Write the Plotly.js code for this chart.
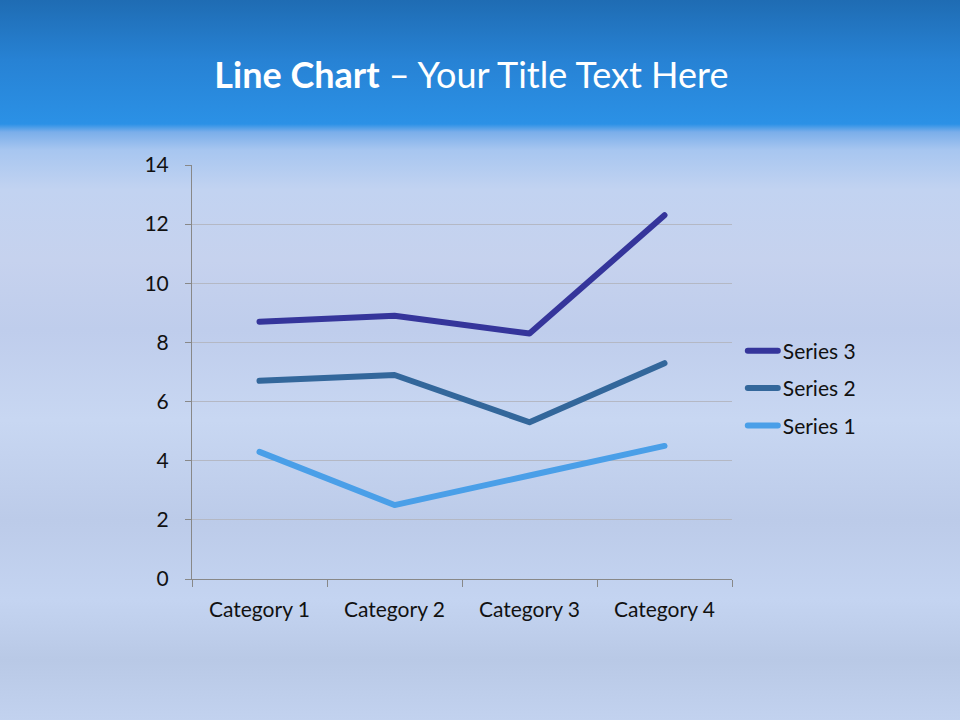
<!DOCTYPE html>
<html>
<head>
<meta charset="utf-8">
<script src="https://cdn.plot.ly/plotly-3.0.1.min.js"></script>
<style>
  html, body { margin: 0; padding: 0; width: 960px; height: 720px; overflow: hidden; }
  #bg {
    position: absolute; left: 0; top: 0; width: 960px; height: 720px;
    background:
      linear-gradient(to bottom, #1f6cb3 0px, #2782d4 60px, #2b91e6 124px, #7aaeea 132px, #a7c6f0 150px, #c2d3f1 190px, #c6d2ee 260px, #bfcdec 330px, #c8d7f2 420px, #bccbe9 520px, #c4d4f1 600px, #b9c9e6 660px, #c2d2ef 720px);
  }
  #chart { position: absolute; left: 0; top: 0; width: 960px; height: 720px; }
  #chart .scatterlayer path.js-line,
  #chart .legendlines path { stroke-linecap: round; stroke-linejoin: round; }
</style>
</head>
<body>
<div id="bg"></div>
<div id="chart"></div>
<script>
const categories = ["Category 1", "Category 2", "Category 3", "Category 4"];
const series1 = [4.3, 2.5, 3.5, 4.5];
const series2 = [2.4, 4.4, 1.8, 2.8];
const series3 = [2.0, 2.0, 3.0, 5.0];
const seriesNames = ["Series 1", "Series 2", "Series 3"];
const seriesColors = ["#4a9fe8", "#33679b", "#35359b"];
const yTicks = [0, 2, 4, 6, 8, 10, 12, 14];

const allSeries = [series1, series2, series3];
const traces = allSeries.map((vals, i) => ({
  type: "scatter",
  mode: "lines",
  x: categories,
  y: vals,
  name: seriesNames[i],
  stackgroup: "one",
  fill: "none",
  legendgroup: "g" + i,
  legendrank: 100 - i,
  line: { color: seriesColors[i], width: 6, shape: "linear" },
  hoverinfo: "x+y+name"
}));

const font = "Lato, 'Open Sans', 'Liberation Sans', sans-serif";

const layout = {
  width: 960, height: 720,
  paper_bgcolor: "rgba(0,0,0,0)",
  plot_bgcolor: "rgba(0,0,0,0)",
  margin: { l: 192, r: 228, t: 165, b: 141, pad: 0 },
  font: { family: font, size: 21, color: "#111111" },
  title: {
    text: "<b>Line Chart</b> – Your Title Text Here",
    font: { family: font, size: 36, color: "#ffffff" },
    x: 0.491, xref: "container", xanchor: "center",
    y: 0.895, yref: "container", yanchor: "middle"
  },
  xaxis: {
    type: "category",
    range: [-0.5, 3.5],
    tickson: "boundaries",
    ticks: "outside", ticklen: 7, tickwidth: 1, tickcolor: "#888888",
    showline: true, linecolor: "#888888", linewidth: 1,
    showgrid: false, zeroline: false,
    ticklabelstandoff: 12,
    tickfont: { family: font, size: 21, color: "#111111" }
  },
  yaxis: {
    range: [0, 14],
    tickvals: yTicks,
    ticks: "outside", ticklen: 6, tickwidth: 1, tickcolor: "#888888",
    showline: true, linecolor: "#888888", linewidth: 1,
    showgrid: true, gridcolor: "#b4b8c4", gridwidth: 1,
    zeroline: false,
    ticklabelstandoff: 12,
    tickfont: { family: font, size: 21, color: "#111111" }
  },
  showlegend: true,
  legend: {
    x: 1.02, xanchor: "left",
    y: 0.461, yanchor: "middle",
    traceorder: "grouped",
    tracegroupgap: 7,
    bgcolor: "rgba(0,0,0,0)",
    itemwidth: 30,
    font: { family: font, size: 21, color: "#111111" }
  }
};

Plotly.newPlot("chart", traces, layout, { displayModeBar: false, staticPlot: true });
</script>
</body>
</html>
